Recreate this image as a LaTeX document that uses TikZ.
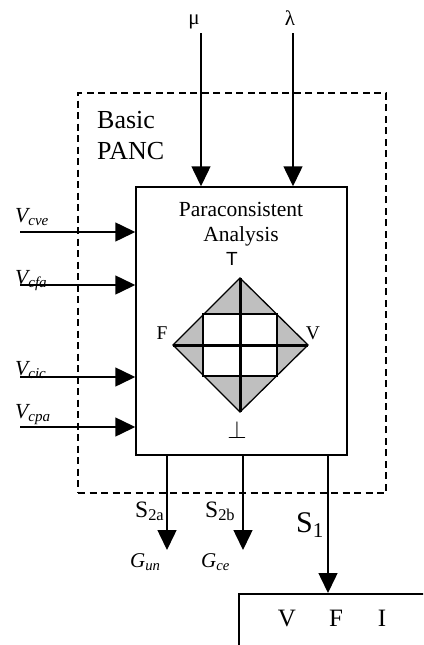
\documentclass[tikz,border=0pt]{standalone}
\usepackage{fontspec}
\setmainfont{Liberation Serif}
\newfontfamily\sansf{Liberation Sans}
\usetikzlibrary{arrows.meta}
\tikzset{
  arr/.style={line width=1.5pt,-{Triangle[width=19pt,length=20pt]}},
  dashbox/.style={draw,line width=1.4pt,dash pattern=on 7pt off 4.5pt,rectangle,inner sep=0pt},
  mainbox/.style={draw,line width=1.5pt,rectangle,inner sep=0pt},
  lbl/.style={inner sep=0pt,anchor=base west},
  ctr/.style={inner sep=0pt,anchor=base},
}
\begin{document}
\begin{tikzpicture}[x=1pt,y=-1pt]
\clip (0,0) rectangle (423,645);
\path[use as bounding box] (0,0) rectangle (423,645);
% boxes
\node[dashbox,minimum width=308pt,minimum height=400pt] (basic) at (232,293) {};
\node[mainbox,minimum width=211pt,minimum height=268pt] (panc) at (241.5,321) {};
\node[mainbox,minimum width=300pt,minimum height=120pt,anchor=north west] (vfi) at (238,593) {};
% texts
\node[lbl,font=\fontsize{26}{28}\selectfont] (basict) at (97,128) {Basic};
\node[lbl,font=\fontsize{26}{28}\selectfont] (panct) at (97,159) {PANC};
\node[ctr,font=\fontsize{21.5}{23}\selectfont] (para) at (241,216) {Paraconsistent};
\node[ctr,font=\fontsize{21.5}{23}\selectfont] (anal) at (241,241) {Analysis};
\node[ctr,font=\sansf\fontsize{19}{20}\selectfont] (tl) at (232,265) {T};
\node[ctr,font=\fontsize{19.5}{20}\selectfont] (fl) at (162,339) {F};
\node[ctr,font=\fontsize{19.5}{20}\selectfont] (vl) at (313,339) {V};
\node[ctr,font=\fontsize{24}{24}\selectfont] (bot) at (237,438) {$\perp$};
\node[ctr,font=\fontsize{21}{22}\selectfont] (mu) at (194,24) {μ};
\node[ctr,font=\fontsize{21}{22}\selectfont] (la) at (290,25) {λ};
% diamond
\fill[gray!50] (240,278) -- (308,345) -- (240,412) -- (173,345) -- cycle;
\fill[white] (203,314) rectangle (277,376);
\draw[line width=1.3pt] (203,314) rectangle (277,376);
\draw[line width=1.3pt,line join=miter] (240,278) -- (308,345) -- (240,412) -- (173,345) -- cycle;
\draw[line width=3pt] (240,278) -- (240,412);
\draw[line width=3pt] (173,345) -- (308,345);
% top inputs
\coordinate (mu0) at (201,33);
\coordinate (la0) at (293,33);
\draw[arr] (mu0) -- (mu0 |- panc.north);
\draw[arr] (la0) -- (la0 |- panc.north);
% left inputs
\coordinate (i1) at (20,232);
\coordinate (i2) at (20,285);
\coordinate (i3) at (20,377);
\coordinate (i4) at (20,427);
\foreach \c in {i1,i2,i3,i4} \draw[arr] (\c) -- (\c -| panc.west);
\node[lbl,font=\fontsize{21.5}{22}\selectfont\itshape] (v1) at (15,222) {V\textsubscript{cve}};
\node[lbl,font=\fontsize{21.5}{22}\selectfont\itshape] (v2) at (15,284) {V\textsubscript{cfa}};
\node[lbl,font=\fontsize{21.5}{22}\selectfont\itshape] (v3) at (15,375) {V\textsubscript{cic}};
\node[lbl,font=\fontsize{21.5}{22}\selectfont\itshape] (v4) at (15,418) {V\textsubscript{cpa}};
% outputs
\coordinate (o1) at (167,550);
\coordinate (o2) at (243,550);
\coordinate (o3) at (328,560);
\draw[arr] (o1 |- panc.south) -- (o1);
\draw[arr] (o2 |- panc.south) -- (o2);
\draw[arr] (o3 |- panc.south) -- (o3 |- vfi.north);
\node[lbl,font=\fontsize{23.5}{24}\selectfont] (s2a) at (135,517) {S\textsubscript{2a}};
\node[lbl,font=\fontsize{23.5}{24}\selectfont] (s2b) at (205,517) {S\textsubscript{2b}};
\node[lbl,font=\fontsize{30}{32}\selectfont] (s1) at (296,532) {S\textsubscript{1}};
\node[lbl,font=\fontsize{21}{22}\selectfont\itshape] (gun) at (130,567) {G\textsubscript{un}};
\node[lbl,font=\fontsize{21}{22}\selectfont\itshape] (gce) at (201,567) {G\textsubscript{ce}};
% V F I
\node[ctr,font=\fontsize{25}{26}\selectfont] (tv) at (287,626) {V};
\node[ctr,font=\fontsize{25}{26}\selectfont] (tf) at (336,626) {F};
\node[ctr,font=\fontsize{25}{26}\selectfont] (ti) at (382,626) {I};
\end{tikzpicture}
\end{document}
